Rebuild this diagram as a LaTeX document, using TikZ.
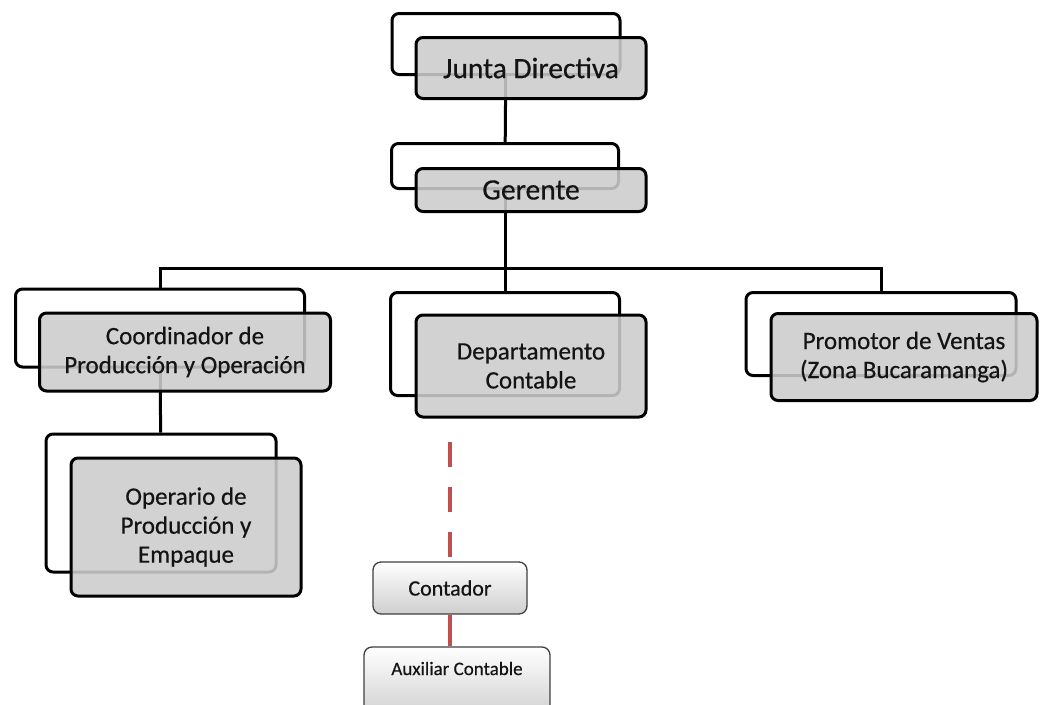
\documentclass[tikz,border=0pt]{standalone}
\usepackage{fontspec}
\setmainfont{Carlito}[FakeBold=0.5]
\usetikzlibrary{positioning,calc}
\definecolor{orgred}{RGB}{192,80,77}
\definecolor{boxgray}{RGB}{204,204,204}

\begin{document}
\begin{tikzpicture}[x=1pt, y=-1pt,
        backbox/.style={rectangle, draw, line width=3pt, rounded corners=7pt, fill=white},
        frontbox/.style={rectangle, draw, line width=3pt, rounded corners=7pt, fill=boxgray, fill opacity=0.88, text opacity=1, text=black!92, align=center},
        topfont/.style={font=\fontsize{29.5}{34}\selectfont},
        midfont/.style={font=\fontsize{25}{29}\selectfont},
        subbox/.style={rectangle, draw=black!75, line width=1.3pt, rounded corners=8pt, top color=white, bottom color=gray!38, text=black!92},
        conn/.style={line width=3pt, black},
        redconn/.style={line width=4pt, orgred}
    ]
        \useasboundingbox (0,0) rectangle (1040,704);

        % back boxes
        \node[backbox, minimum width=228, minimum height=61] (jdback) at (506,44) {};
        \node[backbox, minimum width=227, minimum height=45] (geback) at (505,166) {};
        \node[backbox, minimum width=289, minimum height=78] (coback) at (160,328) {};
        \node[backbox, minimum width=229, minimum height=103] (dpback) at (505,344) {};
        \node[backbox, minimum width=270, minimum height=83] (pvback) at (881,334) {};
        \node[backbox, minimum width=230, minimum height=138] (opback) at (161,503) {};

        % lines between the levels
        \coordinate (bus) at (505,268);
        \draw[conn] (jdback) -- (geback);
        \draw[conn] (geback.south) -- (bus);
        \draw[conn] (coback.north) -- (coback.north |- bus) -- (pvback.north |- bus) -- (pvback.north);
        \draw[conn] (bus) -- (dpback.north);
        \draw[conn] (coback) -- (opback);

        % front boxes
        \node[frontbox, topfont, minimum width=230, minimum height=61] (junta) at (531,68) {Junta Directiva};
        \node[frontbox, topfont, minimum width=230, minimum height=43] (gerente) at (531,190) {Gerente};
        \node[frontbox, midfont, minimum width=291, minimum height=78] (coord) at (185,352) {Coordinador de\\Producción y Operación};
        \node[frontbox, midfont, minimum width=230, minimum height=102] (depto) at (531,366) {Departamento\\Contable};
        \node[frontbox, midfont, minimum width=266, minimum height=87] (promotor) at (904,357) {Promotor de Ventas\\(Zona Bucaramanga)};
        \node[frontbox, midfont, minimum width=230, minimum height=138] (operario) at (186,527) {Operario de\\Producción y\\Empaque};

        % contabilidad
        \node[subbox, font=\fontsize{22}{26}\selectfont, minimum width=154, minimum height=52] (contador) at (450,588) {Contador};
        \node[subbox, font=\fontsize{19}{22}\selectfont, minimum width=186, minimum height=72, text height=14pt, text depth=30pt] (auxiliar) at (457,683) {Auxiliar Contable};
        \coordinate (dpdash) at (450,442);

        \draw[redconn, dash pattern=on 25pt off 20pt] (dpdash) -- (contador.north);
        \draw[redconn] (contador.south) -- (contador.south |- auxiliar.north);
    \end{tikzpicture}
\end{document}
